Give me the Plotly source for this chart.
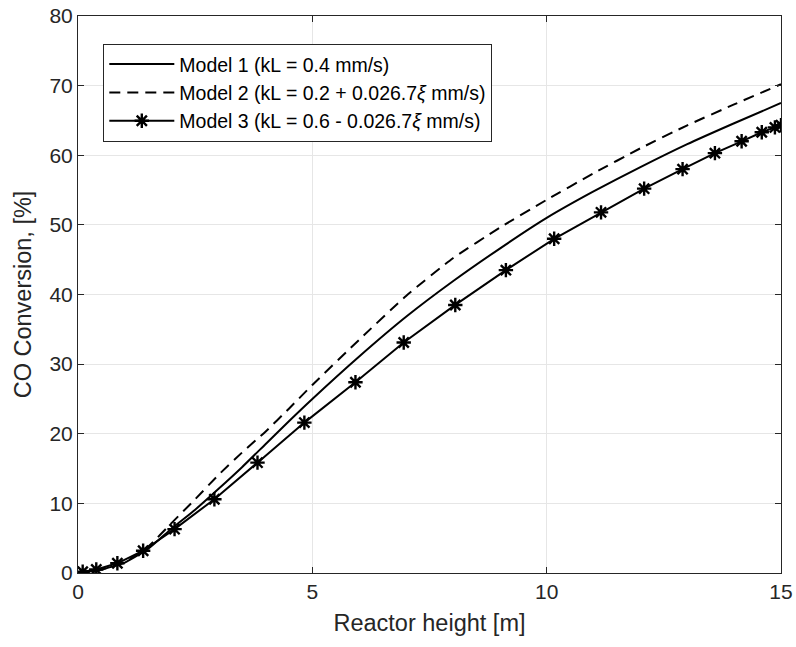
import plotly.graph_objects as go

# Model 1 (solid)
x1 = [0, 0.5, 1, 1.5, 2, 2.5, 3, 3.5, 4, 4.5, 5, 6, 7, 8, 9, 10, 11, 12, 13, 14, 15]
y1 = [0, 0.5, 1.5, 3.5, 6.4, 9.1, 12.1, 15.2, 18.5, 21.8, 25.0, 31.1, 36.8, 41.9, 46.6,
      51.0, 54.8, 58.3, 61.6, 64.6, 67.5]

# Model 2 (dashed)
x2 = [0, 0.5, 1, 1.5, 2, 2.5, 3, 3.5, 4, 4.5, 5, 6, 7, 8, 9, 10, 11, 12, 13, 14, 15]
y2 = [0, 0.5, 1.6, 3.8, 7.2, 10.6, 14.1, 17.3, 20.3, 23.6, 27.0, 33.5, 39.8, 45.2, 49.6,
      53.6, 57.4, 61.0, 64.3, 67.3, 70.2]

# Model 3 (solid with asterisks)
x3 = [0.1, 0.39, 0.84, 1.39, 2.06, 2.91, 3.83, 4.83, 5.92, 6.95, 8.05, 9.13,
      10.16, 11.16, 12.08, 12.9, 13.59, 14.16, 14.59, 14.87, 15.0]
y3 = [0.19, 0.5, 1.39, 3.2, 6.3, 10.6, 15.85, 21.6, 27.4, 33.1, 38.5, 43.5,
      48.0, 51.8, 55.2, 58.0, 60.3, 62.0, 63.3, 64.0, 64.3]

names = ["Model 1 (kL = 0.4 mm/s)",
         "Model 2 (kL = 0.2 + 0.026.7<i>ξ</i> mm/s)",
         "Model 3 (kL = 0.6 - 0.026.7<i>ξ</i> mm/s)"]

FONT = "Liberation Sans, Arial, sans-serif"

fig = go.Figure()
fig.add_trace(go.Scatter(x=x1, y=y1, mode="lines", name=names[0],
                         line=dict(color="black", width=2, shape="spline", smoothing=0.5)))
fig.add_trace(go.Scatter(x=x2, y=y2, mode="lines", name=names[1],
                         line=dict(color="black", width=2, dash="11px,7px", shape="spline", smoothing=0.5)))
fig.add_trace(go.Scatter(x=x3, y=y3, mode="lines+markers", name=names[2],
                         line=dict(color="black", width=2),
                         marker=dict(symbol="asterisk-open", size=12,
                                     line=dict(color="black", width=2.4))))

axis_common = dict(
    showline=True, linecolor="#262626", linewidth=1, mirror="ticks",
    ticks="inside", ticklen=6, tickcolor="#262626",
    showgrid=True, gridcolor="#e6e6e6", gridwidth=1, zeroline=False,
    automargin=False,
    tickfont=dict(family=FONT, size=21, color="#262626"),
)

fig.update_xaxes(range=[0, 15], tickvals=[0, 5, 10, 15],
                 title=dict(text="Reactor height [m]", standoff=12,
                            font=dict(family=FONT, size=23.5, color="#262626")),
                 **axis_common)
fig.update_yaxes(range=[0, 80], tickvals=[0, 10, 20, 30, 40, 50, 60, 70, 80],
                 title=dict(text="CO Conversion, [%]", standoff=11,
                            font=dict(family=FONT, size=23.5, color="#262626")),
                 **axis_common)

fig.update_layout(
    width=796, height=647,
    margin=dict(l=78, r=15, t=16, b=74),
    plot_bgcolor="white", paper_bgcolor="white",
    font=dict(family=FONT, color="black"),
    legend=dict(x=0.036, y=0.95, xanchor="left", yanchor="top",
                bgcolor="white", bordercolor="#262626", borderwidth=1,
                itemwidth=65,
                font=dict(size=19.5, color="black"), tracegroupgap=0),
    showlegend=True,
)

fig.write_html("out.html")
